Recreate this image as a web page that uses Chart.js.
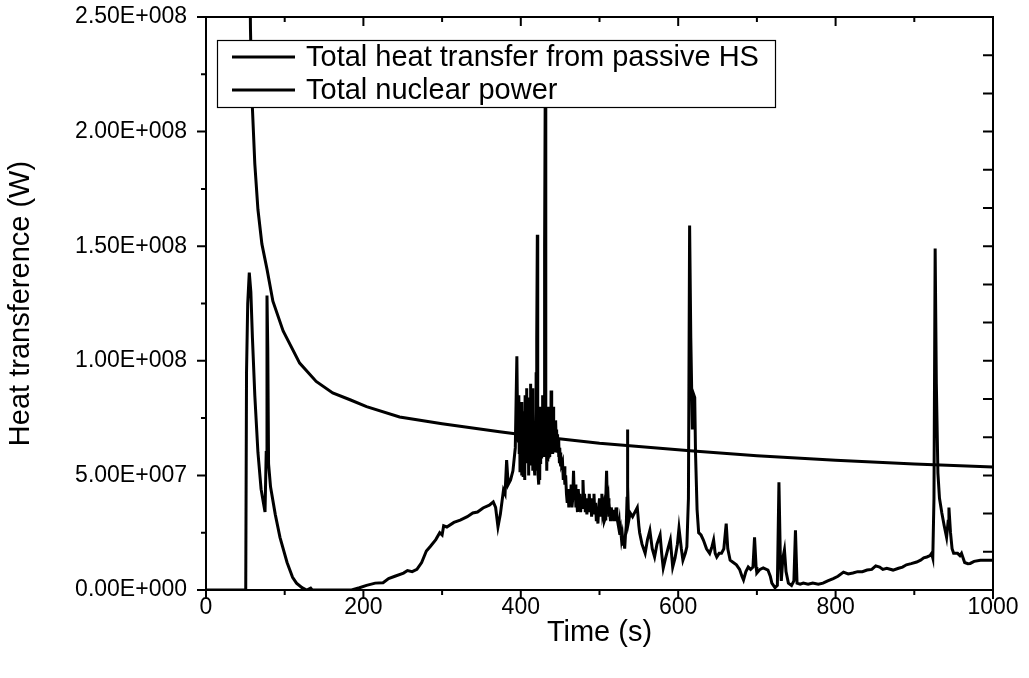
<!DOCTYPE html>
<html><head><meta charset="utf-8">
<script src="https://cdn.jsdelivr.net/npm/chart.js@4.4.1/dist/chart.umd.min.js"></script>
<style>html,body{margin:0;padding:0;background:#fff}</style>
</head><body>
<canvas id="c" width="1029" height="678"></canvas>
<script>
const seriesLabels = ['Total heat transfer from passive HS', 'Total nuclear power'];

const hsTime = [0,50.5,51.5,53,55,57,59,62,66,70,73,75,76.5,77.5,78.5,79.5,82,88,94,103,110,115,122,128,133,135,185,195,204,215,225,232,240,251,256,262,268,274,280,285,292,297,300,302,306,315,323,332,339,345,352,360,365,368,371,374,378,380,382,384,387,390,393,395,396,
397,397.5,398,398.5,399,399.5,400,400.5,401,401.5,402,402.5,403,403.5,404,404.5,405,405.5,406,406.5,407,407.5,408,408.5,409,409.5,410,410.5,411,411.5,412,412.5,413,413.5,414,414.5,415,415.5,416,416.5,417,417.5,418,418.5,419,419.5,420,420.5,421,421.5,422,422.5,423,423.5,424,424.5,425,425.5,426,426.5,427,427.5,428,428.5,429,429.5,430,430.5,431,431.5,432,432.5,433,433.5,434,434.5,435,435.5,436,436.5,437,437.5,438,438.5,439,439.5,440,440.5,441,441.5,442,442.5,443,443.5,444,444.5,445,445.5,446,446.5,447,447.5,448,448.5,449,449.5,450,450.5,451,451.5,452,
453,454,455,456,457,458,459,460,461,462,463,464,465,466,467,468,469,470,471,472,473,474,475,476,477,478,479,480,481,482,483,484,485,486,487,488,489,490,491,492,493,494,495,496,497,498,499,500,501,502,503,504,505,506,507,508,509,510,511,512,513,514,515,516,517,518,519,520,521,522,523,524,525,526,527,528,529,530,531,532,533,534,535,535.5,536,537,
539,542,545,548,550,551,554,558,561,564,567,570,573,577,579,581,584,587,590,592,593,596,599,601,604,606,609,611,613,614.5,616,618,619,620,621,622,624,626,629,632,636,640,643,645,647,649,652,655,658,661,663,666,670,674,678,681,683,686,689,692,695,697,699,700,704,708,714,717,719,723,726,728,730,731,733,735,737,740,744,747,749,751,755,759,765,771,778,784,790,797,803,810,816,822,828,834,840,846,851,856,860,865,873,880,885,890,896,903,908,912,916,920,922,923.5,925,926.5,928,930,932,935,938,941,943,944,946,948,950,955,958,960,962,964,968,971,976,984,992,1000];
const hsPower = [0,0,95e6,125e6,138.5e6,130e6,110e6,85e6,60e6,44e6,38e6,34e6,60e6,128.5e6,105e6,55e6,45e6,33e6,23e6,12e6,5.5e6,3e6,1e6,0,0.8e6,0,0,1e6,2e6,3e6,3.2e6,5e6,6e6,7.4e6,8.5e6,8e6,9e6,12e6,17e6,19e6,22e6,25e6,24e6,28e6,27.5e6,29.5e6,30.5e6,32e6,33.6e6,34e6,35.8e6,37e6,38.4e6,36e6,27.5e6,33e6,43.6e6,42e6,56.7e6,46e6,48e6,52e6,62e6,102e6,70e6,
65e6,85e6,60e6,78e6,52e6,80e6,58e6,75e6,50e6,82e6,60e6,70e6,50e6,78e6,55e6,72e6,48e6,85e6,58e6,78e6,62e6,88e6,56e6,80e6,60e6,74e6,50e6,84e6,56e6,76e6,62e6,90e6,55e6,82e6,60e6,88e6,52e6,78e6,58e6,72e6,54e6,70e6,50e6,66e6,52e6,95e6,70e6,110e6,155e6,70e6,50e6,62e6,46e6,68e6,48e6,72e6,55e6,80e6,58e6,78e6,60e6,85e6,62e6,80e6,58e6,76e6,90e6,150e6,215e6,95e6,58e6,70e6,52e6,68e6,56e6,74e6,58e6,80e6,62e6,76e6,58e6,72e6,60e6,87e6,64e6,76e6,60e6,74e6,62e6,80e6,64e6,72e6,60e6,70e6,62e6,74e6,64e6,70e6,62e6,68e6,60e6,66e6,58e6,64e6,56e6,62e6,56e6,60e6,54e6,57e6,55e6,
56e6,48e6,54e6,46e6,50e6,42e6,38e6,44e6,36e6,42e6,38e6,46e6,36e6,40e6,52e6,40e6,46e6,36e6,40e6,34e6,44e6,38e6,42e6,34e6,40e6,36e6,48e6,38e6,42e6,34e6,38e6,33e6,40e6,34e6,42e6,35e6,38e6,32e6,40e6,36e6,42e6,33e6,38e6,30e6,34e6,29e6,36e6,40e6,32e6,38e6,42e6,34e6,36e6,30e6,31e6,40e6,52e6,38e6,40e6,32e6,34e6,30e6,36e6,32e6,35e6,30e6,34e6,30e6,36e6,32e6,30e6,28e6,30e6,24e6,26e6,22e6,24e6,20e6,22e6,18e6,24e6,28e6,40e6,70e6,45e6,30e6,
33.6e6,32e6,34e6,36e6,28e6,25e6,20e6,16e6,22e6,26e6,18e6,14.4e6,20e6,24e6,16e6,9.6e6,14e6,18e6,21.8e6,14e6,10e6,14e6,20e6,27e6,18e6,13e6,16e6,18.8e6,40e6,159e6,110e6,70e6,80e6,85e6,84e6,60e6,35e6,25e6,24e6,21.8e6,18e6,16e6,19e6,21.8e6,16e6,14.4e6,16e6,16e6,18e6,29e6,18e6,13e6,12e6,11e6,9e6,6e6,4.4e6,8e6,10e6,9e6,10e6,23e6,10e6,7.4e6,9e6,9.6e6,8.7e6,6e6,3e6,1e6,2e6,47e6,10e6,4e6,14e6,17.5e6,8e6,3e6,2e6,4e6,26e6,3e6,2.5e6,3e6,2.5e6,3e6,2.5e6,3e6,4e6,5e6,6e6,7.8e6,7e6,7.4e6,8e6,8e6,8.7e6,9e6,10.5e6,10e6,9e6,9.5e6,8.7e6,9.5e6,10e6,11e6,11.5e6,12.2e6,13e6,14e6,14.4e6,15e6,16e6,14e6,40e6,149e6,90e6,51e6,40e6,33.6e6,28e6,23e6,30e6,36e6,25e6,18e6,16e6,16e6,15e6,16e6,14e6,12e6,11.5e6,11.6e6,12.5e6,13e6,13e6,13e6];

const npTime  = [55.8,56.5,57.5,59,62,66,71,77.5,85,98,119,140,161,183,204,246,300,373,400,500,615,700,800,900,1000];
const npPower = [270e6,245e6,228e6,210e6,186e6,166e6,151e6,140e6,126e6,113e6,99e6,91e6,86e6,83e6,80e6,75.5e6,72.5e6,69e6,67.8e6,64e6,60.8e6,58.6e6,56.6e6,55e6,53.7e6];

const xTicks = [0, 200, 400, 600, 800, 1000];
const xMinorTicks = [100, 300, 500, 700, 900];
const yTicks = [0, 5e7, 1e8, 1.5e8, 2e8, 2.5e8];
const yMinorTicks = [2.5e7, 7.5e7, 1.25e8, 1.75e8, 2.25e8];
const rightAxisDivisions = 15;

const FONT = "'Liberation Sans', Arial, sans-serif";

function sci(v) {
  if (v === 0) return '0.00E+000';
  const e = Math.floor(Math.log10(v) + 1e-9);
  const m = v / Math.pow(10, e);
  return m.toFixed(2) + 'E+' + String(e).padStart(3, '0');
}

const zip = (xs, ys) => xs.map((x, i) => ({x: x, y: ys[i]}));

const framePlugin = {
  id: 'frame',
  afterDraw(chart) {
    const {ctx, chartArea: a, scales} = chart;
    const xs = scales.x, ys = scales.y;
    ctx.save();
    ctx.strokeStyle = '#000';
    ctx.lineWidth = 2;
    ctx.strokeRect(a.left, a.top, a.right - a.left, a.bottom - a.top);
    ctx.beginPath();
    xTicks.forEach(v => { const p = xs.getPixelForValue(v);
      ctx.moveTo(p, a.bottom); ctx.lineTo(p, a.bottom + 9);
      ctx.moveTo(p, a.top); ctx.lineTo(p, a.top + 9); });
    xMinorTicks.forEach(v => { const p = xs.getPixelForValue(v);
      ctx.moveTo(p, a.bottom); ctx.lineTo(p, a.bottom + 5);
      ctx.moveTo(p, a.top); ctx.lineTo(p, a.top + 5); });
    yTicks.forEach(v => { const p = ys.getPixelForValue(v);
      ctx.moveTo(a.left, p); ctx.lineTo(a.left - 9, p); });
    yMinorTicks.forEach(v => { const p = ys.getPixelForValue(v);
      ctx.moveTo(a.left, p); ctx.lineTo(a.left - 5, p); });
    for (let i = 1; i < rightAxisDivisions; i++) {
      const p = a.bottom - (a.bottom - a.top) * i / rightAxisDivisions;
      ctx.moveTo(a.right, p); ctx.lineTo(a.right - 10, p);
    }
    ctx.stroke();

    // legend
    const lx = 217, ly = 40, lw = 558, lh = 67;
    ctx.fillStyle = '#fff';
    ctx.fillRect(lx, ly, lw, lh);
    ctx.lineWidth = 1.2;
    ctx.strokeRect(lx + 0.5, ly + 0.5, lw, lh);
    ctx.font = '29px ' + FONT;
    ctx.textBaseline = 'middle';
    ctx.fillStyle = '#000';
    chart.data.datasets.forEach((ds, i) => {
      const y = ly + 17 + i * 33;
      ctx.strokeStyle = ds.borderColor;
      ctx.lineWidth = 3;
      ctx.beginPath(); ctx.moveTo(232, y); ctx.lineTo(295, y); ctx.stroke();
      ctx.fillText(ds.label, 306, y + 1);
    });
    ctx.restore();
  }
};

new Chart(document.getElementById('c'), {
  type: 'line',
  data: {
    datasets: [
      {label: seriesLabels[0], data: zip(hsTime, hsPower), borderColor: '#000', borderWidth: 3, pointRadius: 0, tension: 0, fill: false},
      {label: seriesLabels[1], data: zip(npTime, npPower), borderColor: '#000', borderWidth: 3, pointRadius: 0, tension: 0, fill: false}
    ]
  },
  options: {
    responsive: false,
    animation: false,
    devicePixelRatio: 1,
    layout: {padding: {left: 0, right: 36, top: 17, bottom: 0}},
    plugins: {legend: {display: false}, tooltip: {enabled: false}},
    scales: {
      x: {
        type: 'linear', min: 0, max: 1000,
        afterBuildTicks: s => { s.ticks = xTicks.map(v => ({value: v})); },
        afterFit: s => { s.height = 88; s.paddingLeft = 0; s.paddingRight = 0; },
        grid: {display: false, drawTicks: false},
        border: {display: false},
        ticks: {color: '#000', font: {family: FONT, size: 23}, padding: 4, maxRotation: 0, autoSkip: false, callback: v => String(v)},
        title: {display: true, text: 'Time (s)', color: '#000', font: {family: FONT, size: 29}, padding: {top: 0, bottom: 28}}
      },
      y: {
        type: 'linear', min: 0, max: 2.5e8,
        afterBuildTicks: s => { s.ticks = yTicks.map(v => ({value: v})); },
        afterFit: s => { s.width = 206; s.paddingTop = 0; s.paddingBottom = 0; },
        grid: {display: false, drawTicks: false},
        border: {display: false},
        ticks: {color: '#000', font: {family: FONT, size: 23}, padding: 19, autoSkip: false, callback: v => sci(v)},
        title: {display: true, text: 'Heat transference (W)', color: '#000', font: {family: FONT, size: 29}, padding: {top: 4, bottom: 0}}
      }
    }
  },
  plugins: [framePlugin]
});
</script>
</body></html>
